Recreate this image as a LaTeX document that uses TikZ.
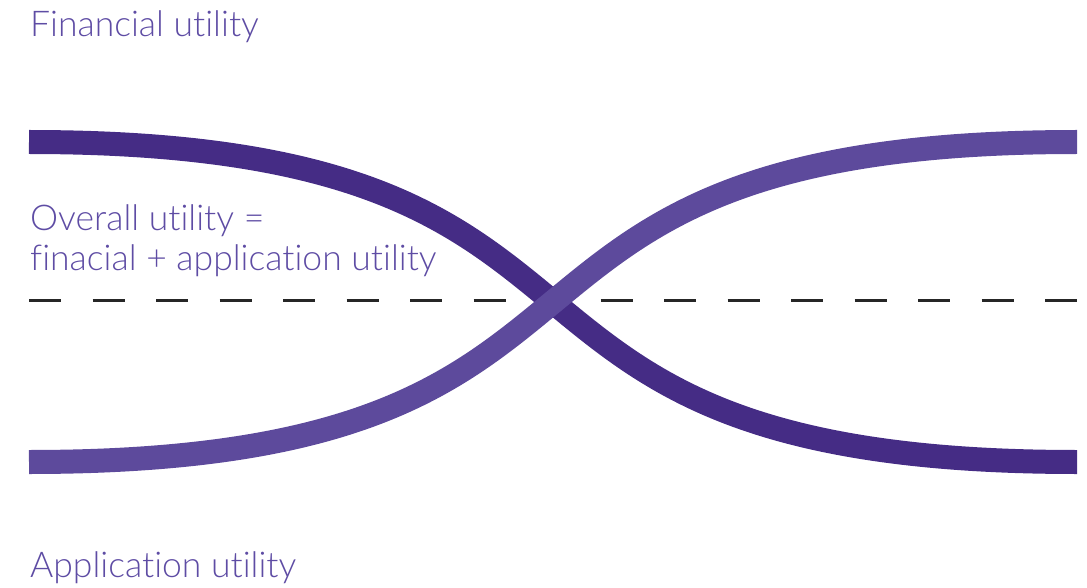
\documentclass[tikz,border=0pt]{standalone}
\usepackage{fontspec}
\setmainfont{Lato}[UprightFont=* Light, RawFeature={-liga}]
\definecolor{darkpurple}{HTML}{452C85}
\definecolor{lightpurple}{HTML}{5D4A9C}
\definecolor{textpurple}{HTML}{5E4CA4}
\tikzset{
  lbl/.style={anchor=base west, inner sep=0pt, text=textpurple, font=\fontsize{35.5}{40}\selectfont},
  curvebar/.style={line width=24pt, line cap=butt},
  midline/.style={line width=3pt, black!85, dash pattern=on 32pt off 31.5pt}
}
\begin{document}
\begin{tikzpicture}[x=1pt,y=-1pt]
\useasboundingbox (0,0) rectangle (1087,588);
\coordinate (ml) at (29,300);
\coordinate (mr) at (1077,300);
\draw[midline] (ml) -- (mr);
\coordinate (dtl) at (29,142);
\coordinate (dbr) at (1077,462);
\coordinate (lbl0) at (29,462);
\coordinate (ltr) at (1077,142);
\draw[curvebar, darkpurple] (dtl) .. controls (690,142) and (416,462) .. (dbr);
\draw[curvebar, lightpurple] (lbl0) .. controls (690,462) and (416,142) .. (ltr);
\node[lbl] (fin) at (30,37) {Financial utility};
\node[lbl] (ovr) at (30,230) {Overall utility =};
\node[lbl] (ovr2) at (30,270) {finacial + application utility};
\node[lbl] (app) at (30,577) {Application utility};
\end{tikzpicture}
\end{document}
